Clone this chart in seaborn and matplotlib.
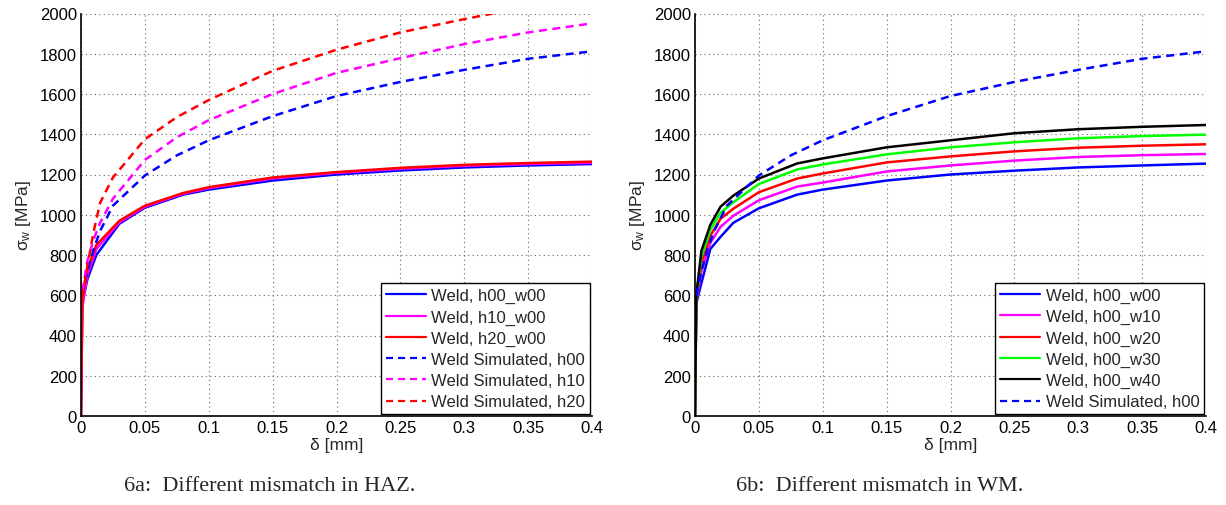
import numpy as np
import pandas as pd
import matplotlib
matplotlib.use("Agg")
import matplotlib.pyplot as plt
import seaborn as sns

# ---------------- data ----------------
# Panel a: solid weld curves (HAZ mismatch)
d_weld_a = [0, 0.001, 0.005, 0.012, 0.03, 0.05, 0.08, 0.1, 0.15, 0.2, 0.25, 0.3, 0.35, 0.4]
a_h00_w00 = [0, 560, 680, 800, 955, 1035, 1100, 1125, 1170, 1200, 1220, 1235, 1245, 1252]
a_h10_w00 = [0, 540, 700, 830, 962, 1040, 1105, 1132, 1180, 1208, 1228, 1243, 1252, 1258]
a_h20_w00 = [0, 580, 730, 850, 970, 1045, 1108, 1137, 1185, 1212, 1233, 1248, 1257, 1264]

# simulated (dashed)
d_sim = [0.001, 0.005, 0.01, 0.015, 0.025, 0.05, 0.075, 0.1, 0.15, 0.2, 0.25, 0.3, 0.35, 0.4]
sim_h00 = [600, 720, 830, 920, 1045, 1195, 1295, 1370, 1490, 1590, 1660, 1720, 1775, 1812]
sim_h10 = [620, 770, 880, 960, 1080, 1272, 1385, 1470, 1600, 1705, 1778, 1848, 1906, 1951]
d_sim_h20 = [0.001, 0.005, 0.01, 0.015, 0.025, 0.05, 0.075, 0.1, 0.15, 0.2, 0.25, 0.3, 0.3225]
sim_h20 = [590, 745, 920, 1060, 1185, 1375, 1485, 1570, 1715, 1820, 1906, 1972, 2000]

# Panel b: solid weld curves (WM mismatch)
d_weld_b = [0, 0.001, 0.005, 0.012, 0.02, 0.03, 0.05, 0.08, 0.1, 0.15, 0.2, 0.25, 0.3, 0.35, 0.4]
b_w00 = [0, 560, 660, 830, 890, 960, 1032, 1100, 1125, 1170, 1200, 1219, 1235, 1245, 1254]
b_w10 = [0, 570, 720, 860, 940, 995, 1072, 1140, 1160, 1215, 1245, 1269, 1287, 1296, 1302]
b_w20 = [0, 580, 760, 895, 980, 1030, 1112, 1180, 1205, 1260, 1290, 1315, 1333, 1343, 1350]
b_w30 = [0, 590, 790, 925, 1010, 1062, 1153, 1225, 1250, 1300, 1335, 1360, 1380, 1391, 1398]
b_w40 = [0, 600, 820, 950, 1040, 1095, 1180, 1255, 1280, 1335, 1370, 1405, 1425, 1437, 1446]

x_ticks = [0, 0.05, 0.1, 0.15, 0.2, 0.25, 0.3, 0.35, 0.4]
x_ticklabels = ["0", "0.05", "0.1", "0.15", "0.2", "0.25", "0.3", "0.35", "0.4"]
y_ticks = list(range(0, 2001, 200))

captions = ["6a:  Different mismatch in HAZ.", "6b:  Different mismatch in WM."]

# ---------------- style ----------------
sns.set_style("white")
plt.rcParams["font.family"] = ["Liberation Sans", "DejaVu Sans"]

fig = plt.figure(figsize=(12.26, 5.06), dpi=100)
ax1 = fig.add_axes([81 / 1226, 89 / 506, 511 / 1226, 402.5 / 506])
ax2 = fig.add_axes([695 / 1226, 89 / 506, 511 / 1226, 402.5 / 506])

LW = 1.8
DASH = (3.2, 2.2)

def draw(ax, x, y, color, label, dashed=False):
    sns.lineplot(x=x, y=y, ax=ax, color=color, label=label, lw=LW,
                 sort=False, estimator=None)
    line = ax.get_lines()[-1]
    if dashed:
        line.set_dashes(DASH)

draw(ax1, d_weld_a, a_h00_w00, "#0000ff", "Weld, h00_w00")
draw(ax1, d_weld_a, a_h10_w00, "#ff00ff", "Weld, h10_w00")
draw(ax1, d_weld_a, a_h20_w00, "#ff0000", "Weld, h20_w00")
draw(ax1, d_sim, sim_h00, "#0000ff", "Weld Simulated, h00", dashed=True)
draw(ax1, d_sim, sim_h10, "#ff00ff", "Weld Simulated, h10", dashed=True)
draw(ax1, d_sim_h20, sim_h20, "#ff0000", "Weld Simulated, h20", dashed=True)

draw(ax2, d_weld_b, b_w00, "#0000ff", "Weld, h00_w00")
draw(ax2, d_weld_b, b_w10, "#ff00ff", "Weld, h00_w10")
draw(ax2, d_weld_b, b_w20, "#ff0000", "Weld, h00_w20")
draw(ax2, d_weld_b, b_w30, "#00ff00", "Weld, h00_w30")
draw(ax2, d_weld_b, b_w40, "#000000", "Weld, h00_w40")
draw(ax2, d_sim, sim_h00, "#0000ff", "Weld Simulated, h00", dashed=True)

for ax in (ax1, ax2):
    ax.set_xlim(0, 0.4)
    ax.set_ylim(0, 2000)
    ax.set_xticks(x_ticks)
    ax.set_xticklabels(x_ticklabels)
    ax.set_yticks(y_ticks)
    ax.tick_params(direction="in", length=4, width=0.8, labelsize=12,
                   colors="black", pad=3)
    ax.grid(True, linestyle=(0, (1, 3)), color="#666666", lw=0.8)
    for s in ("top", "right"):
        ax.spines[s].set_visible(False)
    for s in ("left", "bottom"):
        ax.spines[s].set_color("black")
        ax.spines[s].set_linewidth(1.2)
    ax.set_xlabel("δ [mm]", fontsize=12.5, labelpad=1)
    ax.set_ylabel(r"$\mathregular{\sigma_w}$ [MPa]", fontsize=12.5, labelpad=5)
    leg = ax.legend(loc="lower right", fontsize=12, frameon=True, fancybox=False,
                    edgecolor="black", framealpha=1, borderaxespad=0.1,
                    handlelength=2.4, labelspacing=0.37, borderpad=0.3,
                    handletextpad=0.35)
    leg.get_frame().set_linewidth(1.0)
    for h in leg.get_lines():
        h.set_linewidth(1.6)

fig.text(270 / 1226, 1 - 487 / 506, captions[0], ha="center", va="center",
         fontsize=16, family=["Liberation Serif", "DejaVu Serif"])
fig.text(880 / 1226, 1 - 487 / 506, captions[1], ha="center", va="center",
         fontsize=16, family=["Liberation Serif", "DejaVu Serif"])

fig.savefig("out.png", dpi=100)
